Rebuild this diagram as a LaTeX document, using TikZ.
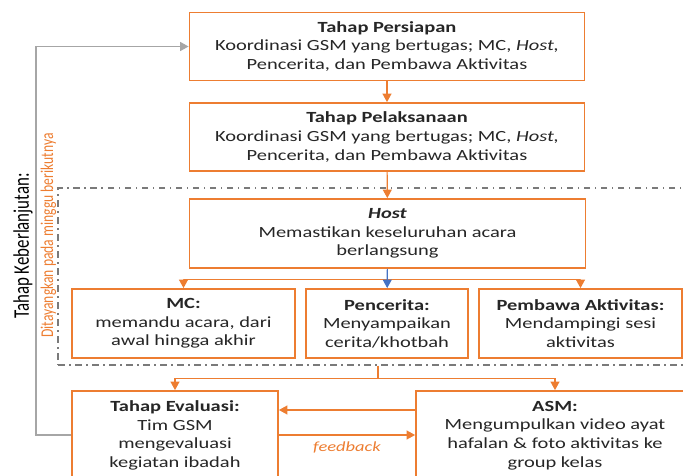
\documentclass[tikz,border=0pt]{standalone}
\usepackage{fontspec}
\setmainfont{Carlito}[FakeStretch=1.32]
\newfontfamily\plainfont{Carlito}
\usepackage{graphicx}
\usetikzlibrary{arrows.meta}
\definecolor{orn}{HTML}{ED7D31}
\definecolor{gry}{HTML}{A6A6A6}
\definecolor{dgry}{HTML}{7A7A7A}
\definecolor{blu}{HTML}{4472C4}
\definecolor{txt}{HTML}{262626}
\begin{document}
\begin{tikzpicture}[x=1pt,y=-1pt,
  box/.style={draw=orn, line width=1.8pt, fill=white, align=center, inner sep=0pt,
    text=txt, font=\fontsize{15.5}{18.6}\selectfont},
  tip/.style={-{Triangle[length=8.5pt,width=9pt]}},
  oline/.style={draw=orn, line width=1.1pt},
  conn/.style={oline, tip},
  grpbox/.style={draw=dgry, line width=1.2pt, dash pattern=on 6.5pt off 4.5pt on 1.5pt off 4.5pt, inner sep=0pt},
  gline/.style={draw=gry, line width=1.5pt, tip}]
\useasboundingbox (0,0) rectangle (683,476);

\node[grpbox, minimum width=628, minimum height=177] (grp) at (372,276.5) {};

\node[box, minimum width=395, minimum height=68] (p1) at (387,46.5)
  {\textbf{Tahap Persiapan}\\Koordinasi GSM yang bertugas; MC, \textit{Host,}\\Pencerita, dan Pembawa Aktivitas};
\node[box, minimum width=395, minimum height=68] (p2) at (387,137)
  {\textbf{Tahap Pelaksanaan}\\Koordinasi GSM yang bertugas; MC, \textit{Host,}\\Pencerita, dan Pembawa Aktivitas};
\node[box, minimum width=396, minimum height=69] (host) at (387.5,233.5)
  {\textbf{\textit{Host}}\\Memastikan keseluruhan acara\\berlangsung};
\node[box, minimum width=223, minimum height=69] (mc) at (183.5,323.5)
  {\textbf{MC:}\\memandu acara, dari\\awal hingga akhir};
\node[box, minimum width=162, minimum height=69] (pen) at (387,323.5)
  {\textbf{Pencerita:}\\Menyampaikan\\cerita/khotbah};
\node[box, minimum width=203, minimum height=69] (pem) at (580.5,323.5)
  {\textbf{Pembawa Aktivitas:}\\Mendampingi sesi\\aktivitas};
\node[box, minimum width=206, minimum height=89] (eval) at (175,435.5)
  {\textbf{Tahap Evaluasi:}\\Tim GSM\\mengevaluasi\\kegiatan ibadah};
\node[box, minimum width=278, minimum height=89] (asm) at (555,435.5)
  {\textbf{ASM:}\\Mengumpulkan video ayat\\hafalan \& foto aktivitas ke\\group kelas};

% vertical labels
\node[inner sep=0pt, text=black] (lab1) at (23,246)
  {\scalebox{1.32}[1]{\rotatebox{90}{\plainfont\fontsize{16.9}{18}\selectfont Tahap Keberlanjutan:}}};
\node[inner sep=0pt, text=orn] (lab2) at (48.5,235.5)
  {\scalebox{1.32}[1]{\rotatebox{90}{\plainfont\fontsize{13.6}{15}\selectfont Ditayangkan pada minggu berikutnya}}};

% connectors
\draw[conn] (p1) -- (p2);
\draw[conn] (p2) -- (host);
\draw[oline] (host.south) -- ++(0,11) coordinate (hs);
\draw[conn] (hs) -| (mc.north);
\draw[conn] (hs) -| (pem.north);
\draw[draw=blu, line width=1.1pt, tip] (host) -- (pen);

\coordinate (gb) at ([xshift=6pt]grp.south);
\draw[oline] (gb) -- ++(0,13) coordinate (bs);
\draw[conn] (bs) -| (eval.north);
\draw[conn] (bs) -| (asm.north);

\coordinate (ya) at (0,410);
\coordinate (yb) at (0,435);
\draw[conn] (asm.west |- ya) -- (eval.east |- ya);
\draw[conn] (eval.east |- yb) -- node[below=3pt, text=orn, font=\fontsize{14}{16}\selectfont\itshape] (fb) {feedback} (asm.west |- yb);

\coordinate (lp) at (36,435);
\draw[gline] (eval.west |- lp) -- (lp) |- (p1.west);
\end{tikzpicture}
\end{document}
